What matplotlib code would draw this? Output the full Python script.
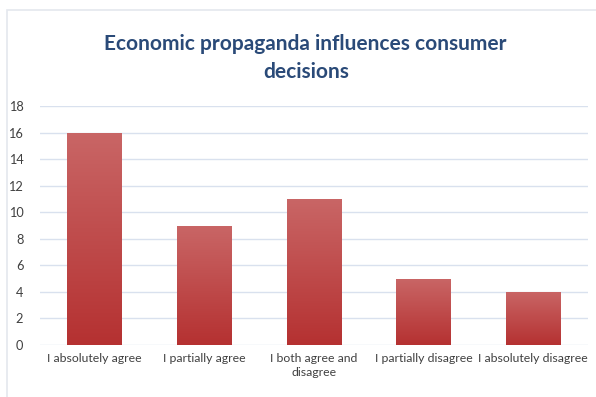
import numpy as np
import matplotlib
matplotlib.use("Agg")
import matplotlib.pyplot as plt
from matplotlib.patches import Rectangle
from matplotlib.colors import LinearSegmentedColormap

categories = ["I absolutely agree", "I partially agree", "I both agree and\ndisagree",
              "I partially disagree", "I absolutely disagree"]
values = [16, 9, 11, 5, 4]
title = "Economic propaganda influences consumer\ndecisions"

label_font = "Lato"

fig = plt.figure(figsize=(5.96, 3.97), dpi=100)
fig.patches.append(Rectangle((7 / 596, -0.02), 1.0, 1 - 10 / 397 + 0.02, transform=fig.transFigure,
                             fill=False, edgecolor="#e4e8ee", linewidth=1.2))

ax = fig.add_axes([40 / 596, 1 - 345 / 397, 548 / 596, (345 - 106) / 397])
x = np.arange(len(categories))
bars = ax.bar(x, values, width=0.5, color="#bf4444", zorder=2)

# vertical gradient on each bar
cmap = LinearSegmentedColormap.from_list("bar", ["#b53131", "#c96666"])
grad = np.linspace(0, 1, 256).reshape(-1, 1)
for b in bars:
    x0, w, h = b.get_x(), b.get_width(), b.get_height()
    im = ax.imshow(grad, cmap=cmap, aspect="auto", origin="lower",
                   extent=[x0, x0 + w, 0, h], zorder=3)
    im.set_clip_path(b)

ax.set_xlim(-0.5, len(categories) - 0.5)
ax.set_ylim(0, 18)
ax.set_yticks(range(0, 19, 2))
ax.set_xticks(x)
ax.set_xticklabels(categories, fontsize=8.8, color="#404040", family=label_font,
                   linespacing=1.35)
ax.tick_params(axis="y", labelsize=9.2, labelcolor="#404040", length=0, pad=12)
ax.tick_params(axis="x", length=0, pad=6)
for lab in ax.get_yticklabels():
    lab.set_family(label_font)
ax.grid(axis="y", color="#d9e1ee", linewidth=1, zorder=0)
for s in ax.spines.values():
    s.set_visible(False)

fig.text(0.513, 0.855, title, ha="center", va="center", fontsize=15, fontweight="bold",
         color="#2a4a78", family="Lato", linespacing=1.5)

plt.savefig("out.png", dpi=100)
